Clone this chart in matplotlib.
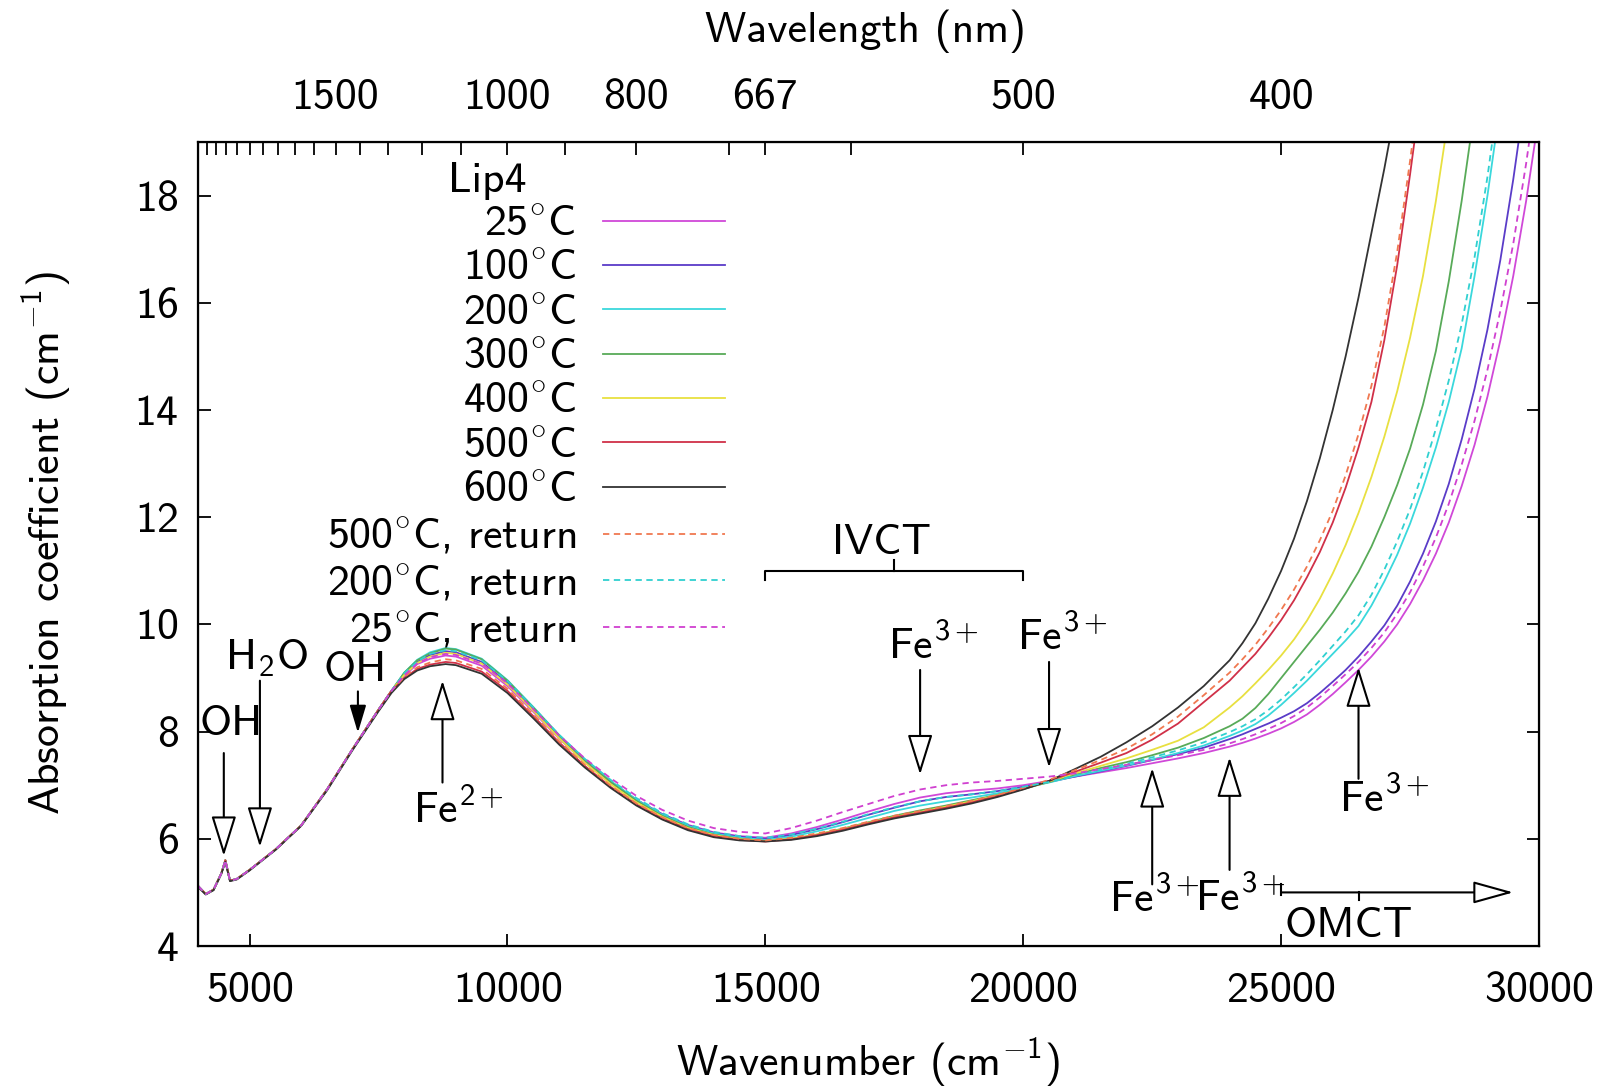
import matplotlib
matplotlib.use("Agg")
import matplotlib.pyplot as plt

plt.rcParams['font.family'] = ['cmss10', 'DejaVu Sans']
plt.rcParams['mathtext.fontset'] = 'custom'
plt.rcParams['mathtext.rm'] = 'cmss10'
plt.rcParams['mathtext.it'] = 'cmss10'
plt.rcParams['mathtext.sf'] = 'cmss10'
plt.rcParams['axes.unicode_minus'] = False
plt.rcParams['axes.formatter.use_mathtext'] = True

FS = 31.5

# wavenumber grid (cm-1)
WN = [4000, 4150, 4300, 4450, 4530, 4620, 4750, 5000,
      5500, 6000, 6500, 7000, 7500, 7750, 8000, 8250, 8500, 8800, 9000, 9500,
      10000, 10500, 11000, 11500, 12000, 12500, 13000, 13500, 14000,
      14500, 15000, 15500, 16000, 16500, 17000, 17500, 18000, 18500,
      19000, 19500, 20000, 20500, 21000, 21500, 22000, 22500, 23000,
      23500, 24000, 24250, 24500, 24750, 25000, 25250, 25500, 25750,
      26000, 26250, 26500, 26750, 27000, 27250, 27500, 27750, 28000,
      28250, 28500, 28750, 29000, 29250, 29500, 29750, 30000]

# common part, 4000 - 7750 cm-1
LOW = [5.12, 4.97, 5.05, 5.35, 5.6, 5.22, 5.25, 5.42, 5.8, 6.25, 6.92, 7.68, 8.41, 8.76]

t25 = LOW + [9.04, 9.26, 9.36, 9.42, 9.4, 9.23, 8.85, 8.37, 7.87, 7.43, 7.05, 6.72, 6.46, 6.26, 6.12, 6.05,
             6.02, 6.1, 6.22, 6.36, 6.51, 6.65, 6.77, 6.85, 6.9, 6.94, 7.0, 7.08,
             7.16, 7.24, 7.32, 7.41, 7.5, 7.6, 7.72,
             7.79, 7.87, 7.96, 8.06, 8.18, 8.32, 8.5, 8.7, 8.92, 9.15, 9.4, 9.68, 10.0, 10.38,
             10.82, 11.32, 11.9, 12.58, 13.35, 14.25, 15.3, 16.5, 17.9, 19.5]
t100 = LOW + [9.08, 9.3, 9.43, 9.5, 9.48, 9.3, 8.91, 8.42, 7.91, 7.46, 7.07, 6.73, 6.46, 6.25, 6.11, 6.04,
              6.0, 6.07, 6.18, 6.31, 6.45, 6.58, 6.7, 6.78, 6.83, 6.89, 6.97, 7.06,
              7.16, 7.26, 7.36, 7.47, 7.58, 7.7, 7.86,
              7.95, 8.05, 8.15, 8.26, 8.38, 8.53, 8.72, 8.93, 9.15, 9.4, 9.68, 9.98, 10.35, 10.8,
              11.32, 11.92, 12.62, 13.45, 14.4, 15.5, 16.8, 18.3, 20.0]
t200 = LOW + [9.1, 9.34, 9.48, 9.56, 9.54, 9.36, 8.96, 8.46, 7.94, 7.48, 7.08, 6.73, 6.45, 6.24, 6.1, 6.02,
              5.98, 6.04, 6.14, 6.26, 6.39, 6.52, 6.62, 6.7, 6.77, 6.85, 6.95, 7.05,
              7.17, 7.27, 7.37, 7.48, 7.6, 7.74, 7.92,
              8.02, 8.14, 8.3, 8.5, 8.72, 8.95, 9.2, 9.45, 9.7, 9.97, 10.35, 10.8, 11.3, 11.88,
              12.55, 13.3, 14.15, 15.15, 16.5, 18.0, 19.7]
t300 = LOW + [9.1, 9.33, 9.46, 9.55, 9.53, 9.35, 8.95, 8.45, 7.93, 7.47, 7.06, 6.71, 6.43, 6.22, 6.08, 6.0,
              5.96, 6.0, 6.08, 6.19, 6.31, 6.43, 6.53, 6.62, 6.72, 6.82, 6.93, 7.06,
              7.2, 7.32, 7.43, 7.56, 7.7, 7.88, 8.1,
              8.24, 8.44, 8.7, 9.0, 9.3, 9.6, 9.9, 10.22, 10.58, 10.98, 11.45, 12.0, 12.6, 13.28,
              14.1, 15.1, 16.4, 17.9, 19.6]
t400 = LOW + [9.06, 9.28, 9.4, 9.47, 9.45, 9.27, 8.88, 8.39, 7.88, 7.42, 7.02, 6.68, 6.41, 6.2, 6.07, 5.99,
              5.96, 6.0, 6.08, 6.18, 6.3, 6.41, 6.5, 6.6, 6.7, 6.81, 6.93, 7.07,
              7.22, 7.36, 7.5, 7.66, 7.83, 8.08, 8.45,
              8.66, 8.9, 9.15, 9.42, 9.72, 10.07, 10.48, 10.95, 11.48, 12.08, 12.75, 13.5, 14.35,
              15.35, 16.5, 17.9, 19.5]
t500 = LOW + [9.0, 9.17, 9.25, 9.3, 9.28, 9.12, 8.76, 8.29, 7.8, 7.36, 6.97, 6.64, 6.38, 6.18, 6.05, 5.98,
              5.95, 5.99, 6.07, 6.17, 6.29, 6.4, 6.49, 6.58, 6.68, 6.8, 6.93, 7.08,
              7.25, 7.42, 7.6, 7.85, 8.15, 8.55, 8.95,
              9.2, 9.45, 9.75, 10.08, 10.45, 10.88, 11.35, 11.9, 12.55, 13.3, 14.15, 15.3, 16.7,
              18.4, 20.2]
t600 = [5.1, 4.96, 5.04, 5.34, 5.57, 5.21, 5.24, 5.41, 5.79, 6.24, 6.9, 7.66, 8.38, 8.72,
        8.98, 9.14, 9.22, 9.26, 9.24, 9.08, 8.72, 8.25, 7.76, 7.33, 6.95, 6.62, 6.36, 6.16, 6.03, 5.97,
        5.95, 5.98, 6.05, 6.15, 6.27, 6.38, 6.47, 6.56, 6.66, 6.78, 6.92, 7.08,
        7.3, 7.53, 7.8, 8.1, 8.45, 8.85, 9.33,
        9.65, 10.02, 10.48, 11.0, 11.6, 12.3, 13.1, 14.0, 15.0, 16.1, 17.3, 18.5, 19.8]
t500r = LOW + [9.02, 9.2, 9.29, 9.35, 9.33, 9.17, 8.8, 8.32, 7.82, 7.38, 6.99, 6.66, 6.4, 6.2, 6.07, 6.0,
               5.97, 6.02, 6.1, 6.2, 6.32, 6.43, 6.52, 6.61, 6.71, 6.82, 6.95, 7.1,
               7.28, 7.47, 7.68, 7.95, 8.28, 8.68, 9.1,
               9.35, 9.62, 9.93, 10.27, 10.65, 11.08, 11.57, 12.12, 12.78, 13.55, 14.45, 15.55,
               16.95, 18.65, 20.5]
t200r = LOW + [9.09, 9.31, 9.45, 9.52, 9.5, 9.33, 8.94, 8.45, 7.94, 7.49, 7.1, 6.76, 6.48, 6.27, 6.13, 6.05,
               6.02, 6.08, 6.19, 6.32, 6.46, 6.59, 6.7, 6.78, 6.83, 6.89, 6.97, 7.06,
               7.18, 7.29, 7.4, 7.52, 7.65, 7.8, 7.99,
               8.1, 8.23, 8.4, 8.6, 8.83, 9.07, 9.33, 9.6, 9.87, 10.17, 10.55, 11.02, 11.55, 12.15,
               12.85, 13.65, 14.55, 15.6, 16.85, 18.35, 20.1]
t25r = LOW + [9.05, 9.27, 9.39, 9.45, 9.43, 9.27, 8.9, 8.42, 7.93, 7.5, 7.13, 6.8, 6.54, 6.34, 6.2, 6.13,
              6.1, 6.2, 6.34, 6.5, 6.65, 6.8, 6.92, 7.0, 7.05, 7.08, 7.12, 7.16,
              7.22, 7.3, 7.38, 7.47, 7.56, 7.66, 7.78,
              7.86, 7.95, 8.05, 8.16, 8.29, 8.45, 8.64, 8.85, 9.07, 9.3, 9.56, 9.85, 10.2, 10.6,
              11.08, 11.62, 12.25, 12.98, 13.8, 14.75, 15.85, 17.1, 18.6, 20.3]

series = [
    ("25$^{\\circ}$C", t25, '#d048d8', '-'),
    ("100$^{\\circ}$C", t100, '#5a3cc8', '-'),
    ("200$^{\\circ}$C", t200, '#3ad8dc', '-'),
    ("300$^{\\circ}$C", t300, '#58aa58', '-'),
    ("400$^{\\circ}$C", t400, '#e8e040', '-'),
    ("500$^{\\circ}$C", t500, '#d03048', '-'),
    ("600$^{\\circ}$C", t600, '#333333', '-'),
    ("500$^{\\circ}$C, return", t500r, '#f07850', '--'),
    ("200$^{\\circ}$C, return", t200r, '#30d0d0', '--'),
    ("25$^{\\circ}$C, return", t25r, '#d040d0', '--'),
]

# top axis: wavelength (nm)
WL_TICKS = [2500, 2400, 2300, 2200, 2100, 2000, 1900, 1800, 1700, 1600, 1500,
            1400, 1300, 1200, 1100, 1000, 900, 800, 700, 667, 600, 500, 400]
WL_LABELS = [1500, 1000, 800, 667, 500, 400]

fig = plt.figure(figsize=(16.06, 10.90), dpi=100)
ax = fig.add_axes([0.1233, 0.1321, 0.835, 0.7376])

for label, vals, col, ls in series:
    ax.plot(WN[:len(vals)], vals, color=col, ls=ls, lw=1.3,
            dashes=(3.5, 2.5) if ls == '--' else (None, None), label=label)

ax.set_xlim(4000, 30000)
ax.set_ylim(4, 19)
ax.set_xticks(range(5000, 30001, 5000))
ax.set_yticks(range(4, 19, 2))
ax.tick_params(direction='in', length=9, width=1.3, right=True, top=False,
               labelsize=FS)
ax.tick_params(axis='x', pad=19)
ax.tick_params(axis='y', pad=14)
for s in ax.spines.values():
    s.set_linewidth(1.6)

axt = ax.twiny()
axt.set_xlim(ax.get_xlim())
axt.set_xticks([1e7 / w for w in WL_TICKS])
axt.set_xticklabels([str(w) if w in WL_LABELS else '' for w in WL_TICKS])
axt.tick_params(direction='in', length=9, width=1.3, labelsize=FS, pad=18)

leg = ax.legend(loc='upper right', bbox_to_anchor=(0.393, 0.921), frameon=False,
                markerfirst=False, fontsize=FS,
                handlelength=2.8, handletextpad=0.6, labelspacing=0.13,
                borderpad=0.0, borderaxespad=0.0)
ax.text(0.2155, 0.952, 'Lip4', transform=ax.transAxes, ha='center', va='center',
        fontsize=FS)

fig.text(0.029, 0.502, 'Absorption coefficient (cm$^{-1}$)', rotation=90,
         ha='center', va='center', fontsize=FS)
fig.text(0.5406, 0.0255, 'Wavenumber (cm$^{-1}$)', ha='center', va='center', fontsize=FS)
fig.text(0.539, 0.9716, 'Wavelength (nm)', ha='center', va='center', fontsize=FS)


def arrow(x0, y0, x1, y1, filled=False, hl=0.9, hw=0.28):
    ax.annotate('', xy=(x1, y1), xytext=(x0, y0),
                arrowprops=dict(arrowstyle='-|>,head_length=%g,head_width=%g' % (hl, hw),
                                fc='black' if filled else 'white', ec='black', lw=1.5,
                                mutation_scale=28, shrinkA=0, shrinkB=0))


def note(x, y, s):
    ax.text(x, y, s, ha='center', va='center', fontsize=FS)


# OH, H2O, OH
note(4640, 8.15, 'OH')
arrow(4500, 7.6, 4500, 5.68)
note(5330, 9.38, 'H$_2$O')
arrow(5200, 8.95, 5200, 5.85)
note(7050, 9.15, 'OH')
arrow(7100, 8.75, 7100, 7.98, filled=True, hl=0.6, hw=0.18)

# Fe2+
note(9050, 6.55, 'Fe$^{2+}$')
arrow(8740, 7.05, 8740, 8.95)

# IVCT bracket
ax.plot([15000, 15000, 20000, 20000], [10.82, 11.0, 11.0, 10.82], color='black', lw=1.5)
ax.plot([17500, 17500], [11.0, 11.2], color='black', lw=1.5)
note(17250, 11.52, 'IVCT')

# Fe3+ spin-forbidden bands
note(18250, 9.6, 'Fe$^{3+}$')
arrow(18000, 9.15, 18000, 7.2)
note(20750, 9.78, 'Fe$^{3+}$')
arrow(20500, 9.3, 20500, 7.33)
note(22550, 4.88, 'Fe$^{3+}$')
arrow(22500, 5.15, 22500, 7.32)
note(24200, 4.9, 'Fe$^{3+}$')
arrow(24000, 5.42, 24000, 7.52)
note(27000, 6.76, 'Fe$^{3+}$')
arrow(26500, 7.12, 26500, 9.2)

# OMCT
arrow(25000, 5.0, 29500, 5.0, hl=0.9, hw=0.25)
ax.plot([25000, 25000], [4.95, 5.15], color='black', lw=1.5)
ax.plot([26500, 26500], [5.0, 4.86], color='black', lw=1.5)
note(26300, 4.37, 'OMCT')

fig.savefig('out.png', dpi=100)
